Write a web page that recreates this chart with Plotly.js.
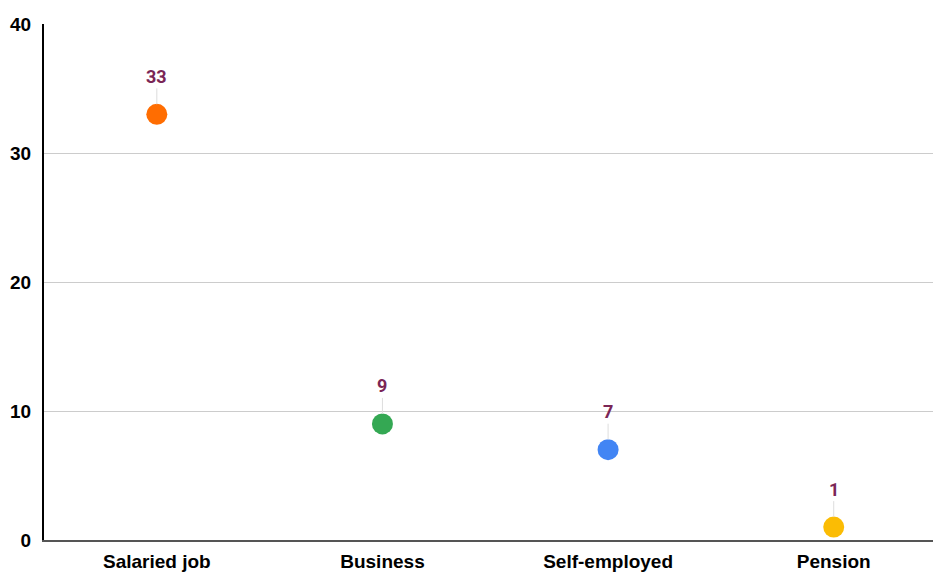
<!DOCTYPE html>
<html>
<head>
<meta charset="utf-8">
<script src="https://cdn.plot.ly/plotly-3.0.1.min.js"></script>
<style>html,body{margin:0;padding:0;background:#fff;}#chart{width:933px;height:573px;}</style>
</head>
<body>
<div id="chart"></div>
<script>
var categories = ["Salaried job", "Business", "Self-employed", "Pension"];
var values = [33, 9, 7, 1];
var colors = ["#FF6D01", "#34A853", "#4285F4", "#FBBC04"];
var yTicks = [0, 10, 20, 30, 40];

var trace = {
  type: "scatter",
  mode: "markers",
  x: categories,
  y: values,
  marker: {size: 21, color: colors, line: {width: 0}},
  hoverinfo: "x+y",
  cliponaxis: false
};

var annotations = categories.map(function(c, i) {
  return {
    x: c, y: values[i], xref: "x", yref: "y",
    text: String(values[i]),
    showarrow: true, arrowhead: 0, arrowwidth: 1, arrowcolor: "#dddddd",
    ax: 0, ay: -38, standoff: 10,
    font: {family: "Roboto, Liberation Sans, Arial, sans-serif", size: 18, color: "#7B2656", weight: "bold"}
  };
});

var tickFont = {family: "Liberation Sans, Arial, sans-serif", size: 19, color: "#000000", weight: "bold"};

var layout = {
  width: 933, height: 573,
  margin: {l: 44, r: 0, t: 24, b: 33},
  paper_bgcolor: "#ffffff", plot_bgcolor: "#ffffff",
  showlegend: false,
  font: tickFont,
  xaxis: {
    type: "category",
    range: [-0.5, 3.44],
    showgrid: false,
    showline: true, linecolor: "#555555", linewidth: 2,
    ticks: "", ticklabelstandoff: 3,
    tickfont: tickFont,
    zeroline: false, fixedrange: true
  },
  yaxis: {
    range: [0, 40],
    tickvals: yTicks,
    ticktext: yTicks.map(String),
    showgrid: true, gridcolor: "#cccccc", gridwidth: 1,
    showline: true, linecolor: "#000000", linewidth: 2,
    ticks: "", ticklabelstandoff: 7,
    tickfont: tickFont,
    zeroline: false, fixedrange: true
  },
  annotations: annotations
};

Plotly.newPlot("chart", [trace], layout, {displayModeBar: false, staticPlot: true});
</script>
</body>
</html>
